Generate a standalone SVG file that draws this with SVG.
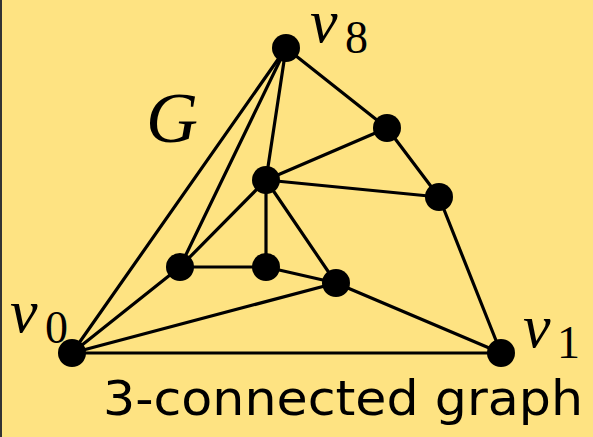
<svg xmlns="http://www.w3.org/2000/svg" width="593" height="437" viewBox="0 0 593 437">
<style>
.e{stroke:#000;stroke-width:3.2;fill:none;stroke-linecap:round}
.n{fill:#000}
.m{font-family:"Liberation Serif",serif;font-style:italic;fill:#000}
.s{font-family:"Liberation Serif",serif;fill:#000}
.t{font-family:"DejaVu Sans","Liberation Sans",sans-serif;fill:#000}
</style>
<rect x="0" y="0" width="593" height="437" fill="#FEE382"/>
<rect x="0" y="0" width="2" height="437" fill="#333"/>
<g id="connectors">
<line class="e" x1="72" y1="353" x2="501" y2="353"/>
<line class="e" x1="72" y1="353" x2="286" y2="48"/>
<line class="e" x1="72" y1="353" x2="180" y2="267"/>
<line class="e" x1="72" y1="353" x2="336" y2="283"/>
<line class="e" x1="286" y1="48" x2="180" y2="267"/>
<line class="e" x1="286" y1="48" x2="266" y2="180"/>
<line class="e" x1="286" y1="48" x2="387" y2="128"/>
<line class="e" x1="387" y1="128" x2="439" y2="197"/>
<line class="e" x1="439" y1="197" x2="501" y2="353"/>
<line class="e" x1="387" y1="128" x2="266" y2="180"/>
<line class="e" x1="266" y1="180" x2="439" y2="197"/>
<line class="e" x1="266" y1="180" x2="180" y2="267"/>
<line class="e" x1="266" y1="180" x2="266" y2="267"/>
<line class="e" x1="266" y1="180" x2="336" y2="283"/>
<line class="e" x1="180" y1="267" x2="266" y2="267"/>
<line class="e" x1="266" y1="267" x2="336" y2="283"/>
<line class="e" x1="336" y1="283" x2="501" y2="353"/>
</g>
<g id="v8"><circle class="n" cx="286" cy="48" r="14"/></g>
<g id="a"><circle class="n" cx="387" cy="128" r="14"/></g>
<g id="b"><circle class="n" cx="266" cy="180" r="14"/></g>
<g id="c"><circle class="n" cx="439" cy="197" r="14"/></g>
<g id="d"><circle class="n" cx="180" cy="267" r="14"/></g>
<g id="e"><circle class="n" cx="266" cy="267" r="14"/></g>
<g id="f"><circle class="n" cx="336" cy="283" r="14"/></g>
<g id="v0"><circle class="n" cx="72" cy="353" r="14"/></g>
<g id="v1"><circle class="n" cx="501" cy="353" r="14"/></g>
<g id="labels">
<text class="m" x="310" y="42" font-size="62">v</text>
<text class="s" x="345" y="53" font-size="46">8</text>
<text class="m" x="10" y="332" font-size="62">v</text>
<text class="s" x="45" y="343" font-size="46">0</text>
<text class="m" x="523" y="347" font-size="62">v</text>
<text class="s" x="557" y="358" font-size="46">1</text>
<text class="m" x="146" y="142" font-size="72">G</text>
<text class="t" x="103" y="415" font-size="48" textLength="480" lengthAdjust="spacingAndGlyphs">3-connected graph</text>
</g>
</svg>
